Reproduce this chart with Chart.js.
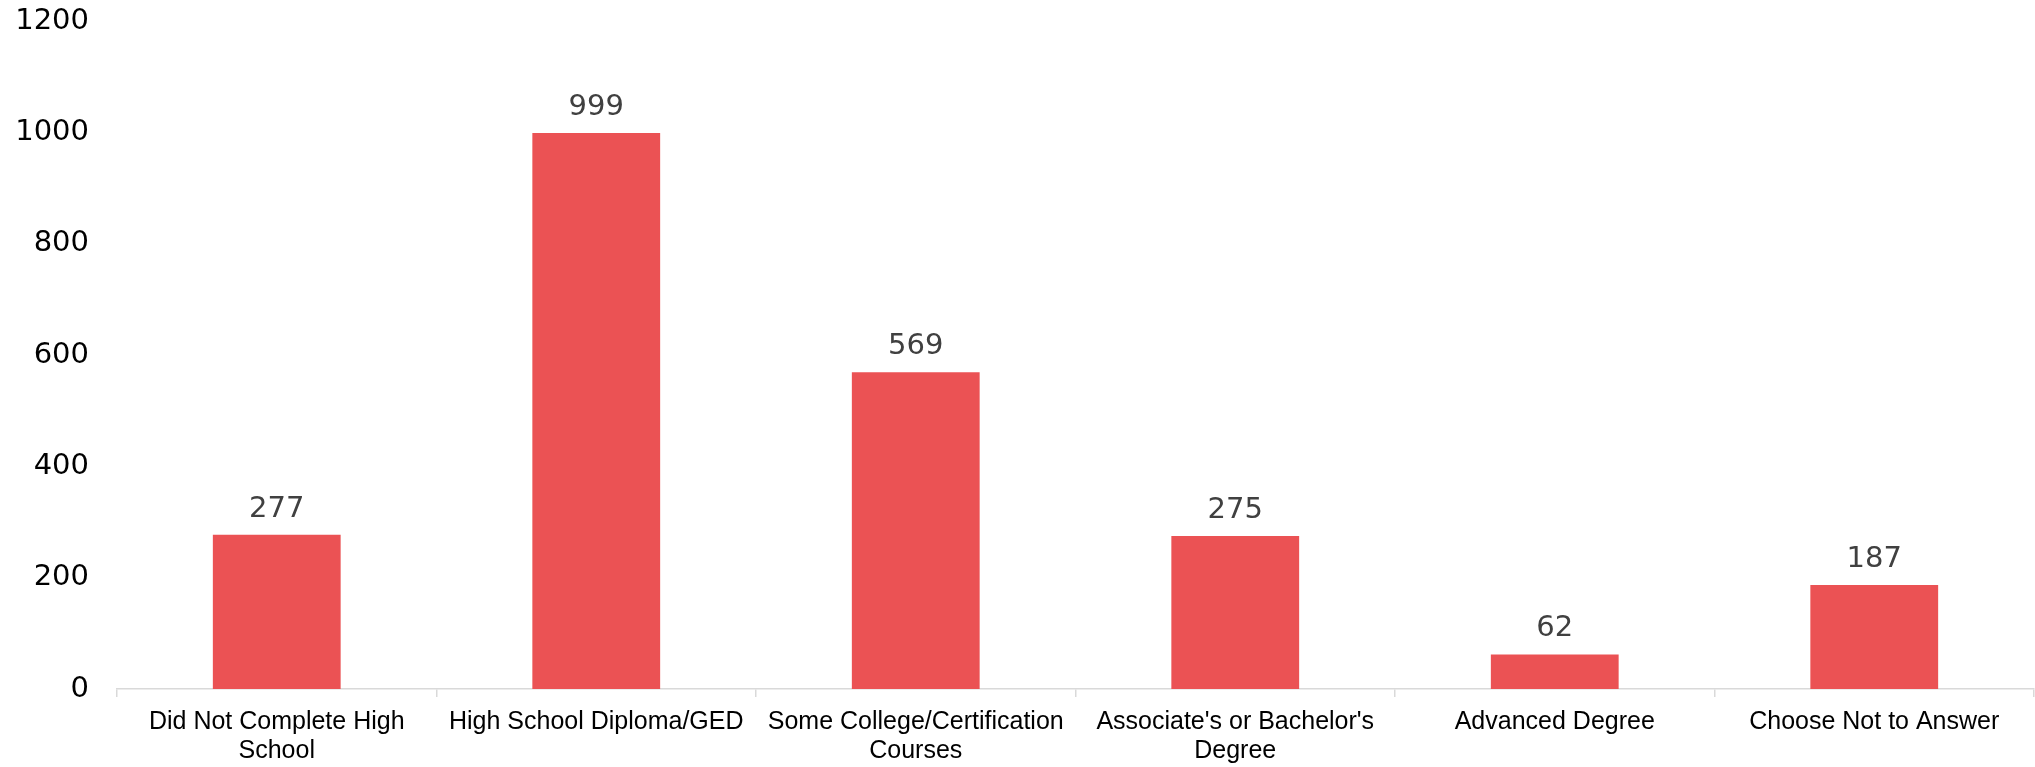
<!DOCTYPE html>
<html>
<head>
<meta charset="utf-8">
<title>Education Level</title>
<script src="https://cdn.jsdelivr.net/npm/chart.js@4"></script>
<style>
    html, body { margin: 0; padding: 0; background: #ffffff; }
    #eduChart { display: block; }
</style>
</head>
<body>
<canvas id="eduChart" width="2035" height="767"></canvas>
<script>
// ============================
// DATA
// ============================
const categories = [
    ['Did Not Complete High', 'School'],
    'High School Diploma/GED',
    ['Some College/Certification', 'Courses'],
    ["Associate's or Bachelor's", 'Degree'],
    'Advanced Degree',
    'Choose Not to Answer'
];
const counts = [277, 999, 569, 275, 62, 187];
const yTicks = [0, 200, 400, 600, 800, 1000, 1200];

const FONT = "'Liberation Sans', Arial, sans-serif";
const NUM_FONT = "'DejaVu Sans', Verdana, sans-serif";

// ============================
// VALUE LABELS ABOVE BARS
// ============================
const valueLabels = {
    id: 'valueLabels',
    afterDatasetsDraw(chart) {
        const c = chart.ctx;
        const meta = chart.getDatasetMeta(0);
        c.save();
        c.font = '29px ' + NUM_FONT;
        c.fillStyle = '#404040';
        c.textAlign = 'center';
        c.textBaseline = 'alphabetic';
        meta.data.forEach((bar, i) => {
            c.fillText(String(counts[i]), bar.x, bar.y - 18);
        });
        c.restore();
    }
};

// ============================
// CHART
// ============================
new Chart(document.getElementById('eduChart'), {
    type: 'bar',
    data: {
        labels: categories,
        datasets: [{
            data: counts,
            backgroundColor: '#EB5254',
            borderWidth: 0,
            categoryPercentage: 0.4,
            barPercentage: 1.0
        }]
    },
    options: {
        responsive: false,
        animation: false,
        layout: { padding: { top: 21, right: 1, left: 0, bottom: 0 } },
        plugins: {
            legend: { display: false },
            tooltip: { enabled: false }
        },
        scales: {
            x: {
                grid: {
                    drawOnChartArea: false,
                    drawTicks: true,
                    tickLength: 8,
                    color: '#d9d9d9',
                    lineWidth: 1.5
                },
                border: { display: true, color: '#d9d9d9', width: 1.5 },
                ticks: {
                    color: '#000000',
                    padding: 11,
                    maxRotation: 0,
                    autoSkip: false,
                    font: { family: FONT, size: 25, lineHeight: 1.16 }
                },
                afterFit(scale) { scale.height = 78; }
            },
            y: {
                min: 0,
                max: 1200,
                afterBuildTicks(scale) {
                    scale.ticks = yTicks.map(v => ({ value: v }));
                },
                // hidden grid, tick length only used to space labels off the plot
                grid: { display: false, drawTicks: true, tickLength: 28 },
                border: { display: false },
                ticks: {
                    color: '#000000',
                    padding: 0,
                    font: { family: NUM_FONT, size: 29 },
                    callback: (v) => String(v)
                },
                afterFit(scale) {
                    scale.width = 117;
                    scale.paddingTop = 0;
                    scale.paddingBottom = 0;
                }
            }
        }
    },
    plugins: [valueLabels]
});
</script>
</body>
</html>
